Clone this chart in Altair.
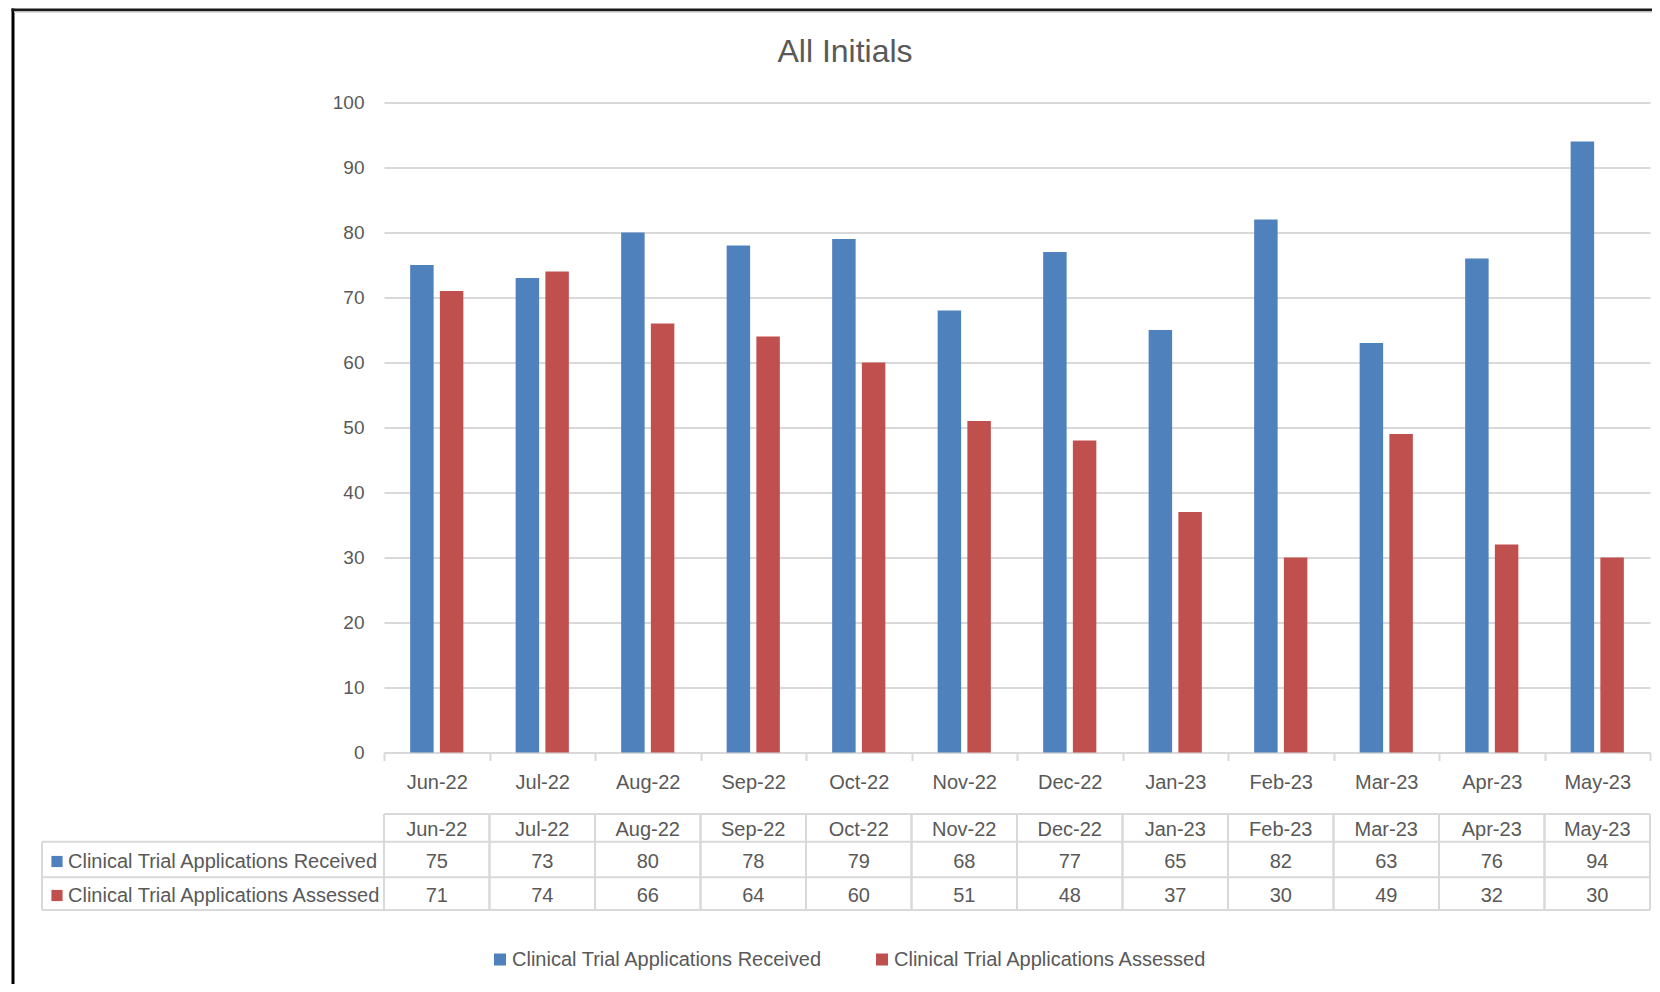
import altair as alt
import pandas as pd

# ---- data ----
months = ["Jun-22", "Jul-22", "Aug-22", "Sep-22", "Oct-22", "Nov-22",
          "Dec-22", "Jan-23", "Feb-23", "Mar-23", "Apr-23", "May-23"]
received = [75, 73, 80, 78, 79, 68, 77, 65, 82, 63, 76, 94]
assessed = [71, 74, 66, 64, 60, 51, 48, 37, 30, 49, 32, 30]
series = ["Clinical Trial Applications Received", "Clinical Trial Applications Assessed"]
colors = ["#4F81BD", "#C0504D"]
title_text = "All Initials"
y_ticks = list(range(0, 101, 10))

long_df = pd.DataFrame({
    "month": months * 2,
    "series": [series[0]] * len(months) + [series[1]] * len(months),
    "value": received + assessed,
})
wide_df = pd.DataFrame({"month": months, "received": received, "assessed": assessed})

FONT = "Liberation Sans"
GRAY = "#595959"
LINE = "#D9D9D9"
W, H = 1266, 650

xscale = alt.Scale(domain=months, paddingInner=0, paddingOuter=0)
xaxis = alt.Axis(labelAngle=0, labelFontSize=20, labelFont=FONT, labelColor=GRAY,
                 domainColor=LINE, domainWidth=2, tickColor=LINE, tickWidth=2,
                 tickSize=8, tickBand="extent", labelPadding=22,
                 labelBaseline="middle", grid=False, title=None)


def xenc(**kw):
    return alt.X("month:N", sort=months, scale=xscale, axis=xaxis, title=None, **kw)


bars = alt.Chart(long_df).mark_bar().encode(
    x=xenc(),
    xOffset=alt.XOffset("series:N", sort=series,
                        scale=alt.Scale(paddingInner=0.21, paddingOuter=0.88)),
    y=alt.Y("value:Q", scale=alt.Scale(domain=[0, 100]), title=None,
            axis=alt.Axis(values=y_ticks, labelFontSize=19, labelFont=FONT, labelColor=GRAY,
                          grid=True, gridColor=LINE, gridWidth=2, domain=False, ticks=False,
                          labelPadding=20)),
    color=alt.Color("series:N", sort=series,
                    scale=alt.Scale(domain=series, range=colors),
                    legend=alt.Legend(title=None, orient="none", legendX=106, legendY=847,
                                      direction="horizontal", symbolType="square",
                                      symbolSize=144, symbolStrokeWidth=0,
                                      labelFontSize=20, labelFont=FONT, labelColor=GRAY,
                                      labelOffset=2, labelLimit=0, columnPadding=49,
                                      padding=0)),
)


def month_text(field, ypix):
    return alt.Chart(wide_df).mark_text(fontSize=20, font=FONT, color=GRAY).encode(
        x=xenc(),
        y=alt.value(ypix),
        text=alt.Text(field),
    )


header = month_text("month:N", 727)
row1 = month_text("received:Q", 759)
row2 = month_text("assessed:Q", 793)


def row_label(i, ypix):
    d = pd.DataFrame({"label": [series[i]]})
    t = alt.Chart(d).mark_text(align="left", fontSize=20, font=FONT, color=GRAY).encode(
        x=alt.value(-316), y=alt.value(ypix), text="label:N")
    s = alt.Chart(d).mark_square(size=125, color=colors[i], opacity=1).encode(
        x=alt.value(-327), y=alt.value(ypix))
    return t + s


one = pd.DataFrame({"k": [0]})


def hline(x1, x2, y, color=LINE, width=2):
    return alt.Chart(one).mark_rule(color=color, strokeWidth=width).encode(
        x=alt.value(x1), x2=alt.value(x2), y=alt.value(y))


def vline(x, y1, y2, color=LINE, width=2):
    return alt.Chart(one).mark_rule(color=color, strokeWidth=width).encode(
        x=alt.value(x), y=alt.value(y1), y2=alt.value(y2))


col_lines_start = alt.Chart(wide_df).mark_rule(color=LINE, strokeWidth=2).encode(
    x=xenc(bandPosition=0), y=alt.value(711.5), y2=alt.value(807.5))
col_lines_end = alt.Chart(wide_df).mark_rule(color=LINE, strokeWidth=2).encode(
    x=xenc(bandPosition=1), y=alt.value(711.5), y2=alt.value(807.5))

table_lines = (
    hline(0, W, 711.5) + hline(-342, W, 739.2) + hline(-342, W, 774.8) + hline(-342, W, 807.5)
    + vline(-342, 739.2, 807.5)
)

frame = (vline(-371, -94, 882, color="black", width=3)
         + hline(-372.5, W + 4, -92.5, color="#1a1a1a", width=3)
         + hline(-370, W + 4, -90.5, color="#cfcfcf", width=1.5))

title = alt.Chart(pd.DataFrame({"t": [title_text]})).mark_text(
    fontSize=32, font=FONT, color=GRAY, baseline="alphabetic", align="center").encode(
    x=alt.value(461), y=alt.value(-40.5), text="t:N")

chart = alt.layer(
    frame, table_lines, col_lines_start, col_lines_end,
    bars, header, row1, row2, row_label(0, 759), row_label(1, 793), title,
).properties(
    width=W, height=H,
    autosize="none",
    background="white",
    padding={"left": 376, "top": 94.5, "right": 2, "bottom": 231.5},
).configure_view(stroke="transparent", strokeWidth=0)

chart.save("out.html", embed_options={"renderer": "svg", "actions": False})
